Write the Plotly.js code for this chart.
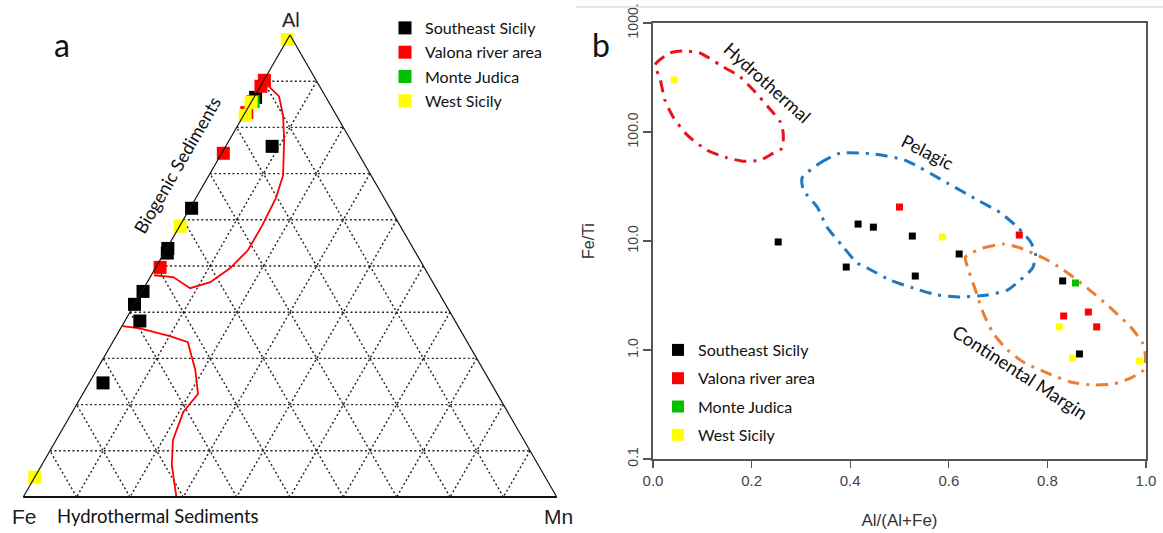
<!DOCTYPE html>
<html>
<head>
<meta charset="utf-8">
<script src="https://cdn.plot.ly/plotly-3.0.1.min.js"></script>
<style>html,body{margin:0;padding:0;background:#fff}#chart{width:1163px;height:533px}</style>
</head>
<body>
<div id="chart"></div>
<script>
// ---------- common ----------
const groupNames = ['Southeast Sicily', 'Valona river area', 'Monte Judica', 'West Sicily'];
const groupColors = ['#000000', '#ff0000', '#00c000', '#ffff00'];

// ---------- panel a : ternary Al (top) - Fe (left) - Mn (right) ----------
const terSE_Al = [0.865, 0.759, 0.625, 0.538, 0.528, 0.445, 0.417, 0.381, 0.247];
const terSE_Fe = [0.132, 0.154, 0.372, 0.460, 0.466, 0.553, 0.583, 0.591, 0.727];
const terSE_Mn = [0.003, 0.087, 0.003, 0.002, 0.006, 0.002, 0.000, 0.028, 0.026];

const terVR_Al = [0.902, 0.889, 0.832, 0.744, 0.497];
const terVR_Fe = [0.097, 0.110, 0.165, 0.253, 0.495];
const terVR_Mn = [0.001, 0.001, 0.003, 0.003, 0.008];

const terMJ_Al = [0.856];
const terMJ_Fe = [0.141];
const terMJ_Mn = [0.003];

const terWS_Al = [0.990, 0.854, 0.826, 0.586, 0.043];
const terWS_Fe = [0.010, 0.146, 0.171, 0.413, 0.957];
const terWS_Mn = [0.000, 0.000, 0.003, 0.001, 0.000];

// boundary of biogenic sediments field
const bioLine_Al = [0.891, 0.867, 0.826, 0.772, 0.696, 0.647, 0.588, 0.534, 0.495, 0.465, 0.452, 0.476, 0.480];
const bioLine_Fe = [0.096, 0.087, 0.100, 0.125, 0.165, 0.203, 0.258, 0.312, 0.365, 0.417, 0.461, 0.481, 0.515];
const bioLine_Mn = [0.013, 0.046, 0.074, 0.103, 0.139, 0.150, 0.154, 0.154, 0.140, 0.118, 0.087, 0.043, 0.005];
// boundary of hydrothermal sediments field
const hydLine_Al = [0.370, 0.365, 0.348, 0.335, 0.275, 0.223, 0.184, 0.123, 0.069, 0.000];
const hydLine_Fe = [0.629, 0.599, 0.551, 0.524, 0.540, 0.561, 0.608, 0.658, 0.687, 0.713];
const hydLine_Mn = [0.001, 0.036, 0.101, 0.141, 0.185, 0.216, 0.208, 0.219, 0.244, 0.287];

// ---------- panel b : Fe/Ti vs Al/(Al+Fe) ----------
const bSE_x = [0.254, 0.416, 0.447, 0.392, 0.526, 0.532, 0.621, 0.831, 0.865];
const bSE_y = [9.8, 14.3, 13.4, 5.77, 11.1, 4.77, 7.6, 4.3, 0.92];
const bVR_x = [0.500, 0.743, 0.883, 0.833, 0.900];
const bVR_y = [20.5, 11.35, 2.23, 2.05, 1.63];
const bMJ_x = [0.857];
const bMJ_y = [4.12];
const bWS_x = [0.043, 0.587, 0.824, 0.851, 0.987];
const bWS_y = [300, 10.9, 1.63, 0.845, 0.793];

const hydroField_x = [0.004, 0.035, 0.061, 0.095, 0.136, 0.177, 0.207, 0.234, 0.258, 0.264, 0.262, 0.244, 0.217, 0.183, 0.150, 0.110, 0.069, 0.041, 0.024, 0.014, 0.004];
const hydroField_y = [412, 531, 553, 531, 412, 320, 233, 169, 124, 98, 71, 64, 55, 54, 58, 68, 94, 137, 197, 313, 412];
const pelagicField_x = [0.3025, 0.339, 0.380, 0.447, 0.512, 0.597, 0.658, 0.705, 0.739, 0.766, 0.776, 0.770, 0.745, 0.719, 0.678, 0.623, 0.577, 0.528, 0.481, 0.435, 0.414, 0.386, 0.353, 0.333, 0.305, 0.3025];
const pelagicField_y = [37.9, 52, 64, 62.8, 55, 34, 23.8, 18.1, 13.4, 9.8, 7.45, 5.65, 4.38, 3.55, 3.2, 3.06, 3.2, 3.7, 4.38, 5.65, 6.3, 8.8, 13.4, 20.5, 29.4, 37.9];
const contField_x = [0.6335, 0.670, 0.711, 0.745, 0.792, 0.8325, 0.881, 0.928, 0.9685, 0.993, 0.999, 0.995, 0.9685, 0.934, 0.893, 0.847, 0.800, 0.751, 0.719, 0.690, 0.670, 0.654, 0.640, 0.6335];
const contField_y = [7.13, 8.63, 9.38, 8.63, 6.98, 5.42, 3.7, 2.43, 1.63, 1.16, 0.863, 0.655, 0.553, 0.488, 0.477, 0.509, 0.615, 0.776, 1.0, 1.43, 2.18, 3.55, 5.42, 7.13];

const xTickVals = [0, 0.2, 0.4, 0.6, 0.8, 1.0];
const xTickText = ['0.0', '0.2', '0.4', '0.6', '0.8', '1.0'];
const yTickVals = [0.1, 1, 10, 100, 1000];
const yTickText = ['0.1', '1.0', '10.0', '100.0', '1000.'];

// ---------- build ----------
const W = 1163, H = 533;
const px = v => v / W;
const py = v => 1 - v / H;
const textFont = 'Lato, "Open Sans", sans-serif';
const axisFont = '"Liberation Sans", Arial, sans-serif';

const terGroups = [
  [terSE_Al, terSE_Fe, terSE_Mn],
  [terVR_Al, terVR_Fe, terVR_Mn],
  [terMJ_Al, terMJ_Fe, terMJ_Mn],
  [terWS_Al, terWS_Fe, terWS_Mn]
];
const bGroups = [[bSE_x, bSE_y], [bVR_x, bVR_y], [bMJ_x, bMJ_y], [bWS_x, bWS_y]];

const traces = [];
traces.push({type: 'scatterternary', mode: 'lines', a: bioLine_Al, b: bioLine_Fe, c: bioLine_Mn,
  line: {color: '#ff0000', width: 1.8}, showlegend: false, hoverinfo: 'skip', cliponaxis: false});
traces.push({type: 'scatterternary', mode: 'lines', a: hydLine_Al, b: hydLine_Fe, c: hydLine_Mn,
  line: {color: '#ff0000', width: 1.8}, showlegend: false, hoverinfo: 'skip', cliponaxis: false});
terGroups.forEach((g, i) => {
  traces.push({type: 'scatterternary', mode: 'markers', name: groupNames[i],
    a: g[0], b: g[1], c: g[2], legend: 'legend', legendgroup: 'ta' + i, cliponaxis: false,
    marker: {symbol: 'square', size: 13, color: groupColors[i], line: {width: 0}}});
});

const fieldDash = '12px,7px,3px,7px';
traces.push({type: 'scatter', mode: 'lines', x: hydroField_x, y: hydroField_y, xaxis: 'x', yaxis: 'y',
  line: {color: '#e8141c', width: 3, dash: fieldDash, shape: 'spline', smoothing: 0.6}, showlegend: false, hoverinfo: 'skip'});
traces.push({type: 'scatter', mode: 'lines', x: pelagicField_x, y: pelagicField_y, xaxis: 'x', yaxis: 'y',
  line: {color: '#1f77c0', width: 3, dash: fieldDash, shape: 'spline', smoothing: 0.6}, showlegend: false, hoverinfo: 'skip'});
traces.push({type: 'scatter', mode: 'lines', x: contField_x, y: contField_y, xaxis: 'x', yaxis: 'y',
  line: {color: '#ed7d31', width: 3, dash: fieldDash, shape: 'spline', smoothing: 0.6}, showlegend: false, hoverinfo: 'skip'});
bGroups.forEach((g, i) => {
  traces.push({type: 'scatter', mode: 'markers', name: groupNames[i], x: g[0], y: g[1],
    xaxis: 'x', yaxis: 'y', legend: 'legend2', legendgroup: 'tb' + i,
    marker: {symbol: 'square', size: 7, color: groupColors[i], line: {width: 0}}});
});

const terAxis = {
  title: {text: ''}, min: 0, showticklabels: false, ticks: '', dtick: 0.1, tick0: 0,
  linecolor: '#111', linewidth: 1.2, showline: true,
  showgrid: true, gridcolor: '#222', gridwidth: 1.4, griddash: '2px,2.5px'
};

const annotations = [
  {text: 'a', x: px(62), y: py(45), font: {family: textFont, size: 32, color: '#111'}},
  {text: 'b', x: px(601), y: py(44), font: {family: textFont, size: 32, color: '#111'}},
  {text: 'Al', x: px(291), y: py(20), font: {family: axisFont, size: 20, color: '#222'}},
  {text: 'Fe', x: px(24), y: py(516), font: {family: axisFont, size: 21, color: '#222'}},
  {text: 'Mn', x: px(558), y: py(516), font: {family: axisFont, size: 21, color: '#222'}},
  {text: 'Hydrothermal Sediments', x: px(158), y: py(516), font: {family: textFont, size: 18.5, color: '#111'}},
  {text: 'Biogenic Sediments', x: px(177), y: py(165), textangle: -60, font: {family: textFont, size: 18, color: '#111'}},
  {text: 'Hydrothermal', x: px(767), y: py(82), textangle: 42, font: {family: textFont, size: 18, color: '#111'}},
  {text: 'Pelagic', x: px(928), y: py(152), textangle: 27, font: {family: textFont, size: 18, color: '#111'}},
  {text: 'Continental Margin', x: px(1020), y: py(372), textangle: 33, font: {family: textFont, size: 18.5, color: '#111'}}
].map(a => Object.assign({xref: 'paper', yref: 'paper', xanchor: 'center', yanchor: 'middle', showarrow: false}, a));

const layout = {
  width: W, height: H,
  margin: {l: 0, r: 0, t: 0, b: 0},
  paper_bgcolor: '#ffffff', plot_bgcolor: 'rgba(0,0,0,0)',
  showlegend: true,
  ternary: {
    domain: {x: [px(23), px(557)], y: [36 / H, 498 / H]},
    sum: 1, bgcolor: 'rgba(0,0,0,0)',
    aaxis: terAxis, baxis: Object.assign({}, terAxis, {linewidth: 1.8}), caxis: terAxis
  },
  xaxis: {
    domain: [px(653), px(1146)], range: [0, 1], anchor: 'y', automargin: false,
    tickmode: 'array', tickvals: xTickVals, ticktext: xTickText,
    ticks: 'outside', ticklen: 7, tickwidth: 1.2, tickcolor: '#555',
    showline: true, mirror: true, linecolor: '#555', linewidth: 1.6,
    showgrid: false, zeroline: false,
    tickfont: {family: axisFont, size: 15, color: '#444'},
    title: {text: 'Al/(Al+Fe)', font: {family: axisFont, size: 17, color: '#333'}, standoff: 26}
  },
  yaxis: {
    domain: [74 / H, 510 / H], type: 'log', range: [-1, 3], anchor: 'x', automargin: false,
    tickmode: 'array', tickvals: yTickVals, ticktext: yTickText, tickangle: -90,
    ticks: 'outside', ticklen: 8, tickwidth: 1.2, tickcolor: '#555',
    showline: true, mirror: true, linecolor: '#555', linewidth: 1.6,
    showgrid: false, zeroline: false,
    tickfont: {family: axisFont, size: 14, color: '#444'},
    title: {text: 'Fe/Ti', font: {family: axisFont, size: 16, color: '#333'}, standoff: 26}
  },
  legend: {
    x: px(385), y: py(11), xanchor: 'left', yanchor: 'top',
    bgcolor: 'rgba(0,0,0,0)', borderwidth: 0, tracegroupgap: 0.5,
    font: {family: textFont, size: 16, color: '#111'}
  },
  legend2: {
    x: px(658), y: py(333), xanchor: 'left', yanchor: 'top',
    bgcolor: 'rgba(0,0,0,0)', borderwidth: 0, tracegroupgap: 4.5, itemsizing: 'constant',
    font: {family: textFont, size: 16, color: '#111'}
  },
  shapes: [
    {type: 'line', xref: 'paper', yref: 'paper', x0: px(576), x1: 1, y0: py(7), y1: py(7),
     line: {color: '#dddddd', width: 1.5}}
  ],
  annotations: annotations
};

Plotly.newPlot('chart', traces, layout, {displayModeBar: false, staticPlot: true});
</script>
</body>
</html>
